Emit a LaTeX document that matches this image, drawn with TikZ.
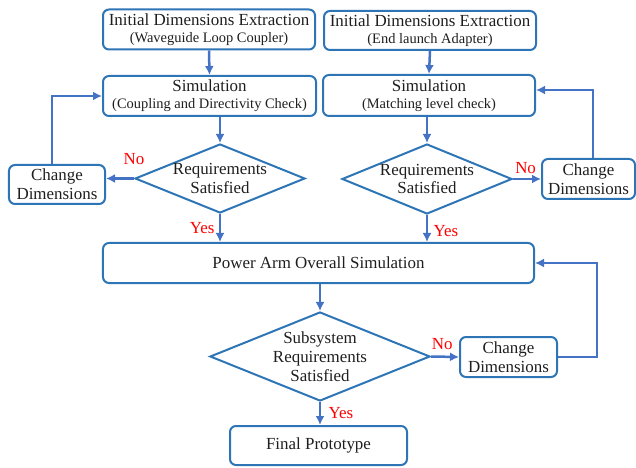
\documentclass[tikz,border=0pt]{standalone}
\usepackage{fontspec}
\setmainfont{Liberation Serif}
\usepackage{tikz}
\usetikzlibrary{shapes.geometric}
\usetikzlibrary{arrows.meta}
\definecolor{boxblue}{RGB}{46,117,182}
\definecolor{arrowblue}{RGB}{68,114,196}
\definecolor{inkgray}{RGB}{30,30,30}
\tikzset{
    >={Latex[length=9bp,width=9bp]},
    box/.style={shape=rectangle, draw=boxblue, line width=2bp, rounded corners=6bp, inner sep=0pt, align=center, text=inkgray},
    decision/.style={shape=diamond, draw=boxblue, line width=2bp, inner sep=0pt},
    flow/.style={->, draw=arrowblue, line width=2.5bp},
    answer/.style={text=red}}
\newcommand{\subline}[1]{{\fontsize{14.5}{17}\selectfont #1}}

\begin{document}
\begin{tikzpicture}[x=1bp, y=-1bp, font=\rmfamily\fontsize{17}{19}\selectfont]
        \useasboundingbox (0,0) rectangle (636,468);

            \node[box, minimum width=212bp, minimum height=40bp] (init1) at (209,29.5) {Initial Dimensions Extraction\\[-2bp]\subline{(Waveguide Loop Coupler)}};
            \node[box, minimum width=212bp, minimum height=39bp] (init2) at (430,30.5) {Initial Dimensions Extraction\\[-2bp]\subline{(End launch Adapter)}};
            \node[box, minimum width=213bp, minimum height=40bp] (sim1) at (209.5,96) {Simulation\\[-2bp]\subline{(Coupling and Directivity Check)}};
            \node[box, minimum width=212bp, minimum height=41bp] (sim2) at (429,95.5) {Simulation\\[-2bp]\subline{(Matching level check)}};
            \node[decision, minimum width=170bp, minimum height=69bp, label={[align=center, text=inkgray]center:Requirements\\Satisfied}] (req1) at (220,178.5) {};
            \node[decision, minimum width=170bp, minimum height=70bp, label={[align=center, text=inkgray]center:Requirements\\Satisfied}] (req2) at (427,179) {};
            \node[box, minimum width=96bp, minimum height=39bp] (chg1) at (57,184.5) {Change\\Dimensions};
            \node[box, minimum width=93bp, minimum height=40bp] (chg2) at (588.5,179) {Change\\Dimensions};
            \node[box, minimum width=431bp, minimum height=40bp] (power) at (318.5,263) {Power Arm Overall Simulation};
            \node[decision, minimum width=220bp, minimum height=89bp, label={[align=center, text=inkgray]center:Subsystem\\Requirements\\Satisfied}] (sub) at (320,356.5) {};
            \node[box, minimum width=97bp, minimum height=40bp] (chg3) at (508.5,357) {Change\\Dimensions};
            \node[box, minimum width=177bp, minimum height=39bp] (final) at (318.5,445.5) {Final Prototype};
            \coordinate (back3) at (597,0);

            \draw[flow] (init1.south) -- (sim1.north);
            \draw[flow] (init2.south) -- (sim2.north);
            \draw[flow] (sim1.south -| req1.north) -- (req1.north);
            \draw[flow] (sim2.south -| req2.north) -- (req2.north);
            \draw[flow] (req1.west) -- (req1.west -| chg1.east) node[answer, pos=0, above=9bp] {No};
            \draw[flow] ([xshift=-5bp]chg1.north) |- (sim1.west);
            \draw[flow] (req2.east) -- (chg2.west) node[answer, pos=0.45, above=1bp] {No};
            \draw[flow] ([xshift=4.5bp]chg2.north) |- ([yshift=5.5bp]sim2.east);
            \draw[flow] (req1.south) -- (req1.south |- power.north) node[answer, midway, left=1bp] {Yes};
            \draw[flow] (req2.south) -- (req2.south |- power.north) node[answer, pos=0.6, right=2bp] {Yes};
            \draw[flow] (power.south -| sub.north) -- (sub.north);
            \draw[flow] (sub.east) -- (chg3.west) node[answer, pos=0.4, above=2bp] {No};
            \draw[flow] (chg3.east) -- (chg3.east -| back3) |- (power.east);
            \draw[flow] (sub.south) -- (sub.south |- final.north) node[answer, midway, right=4bp] {Yes};

        \end{tikzpicture}
\end{document}
